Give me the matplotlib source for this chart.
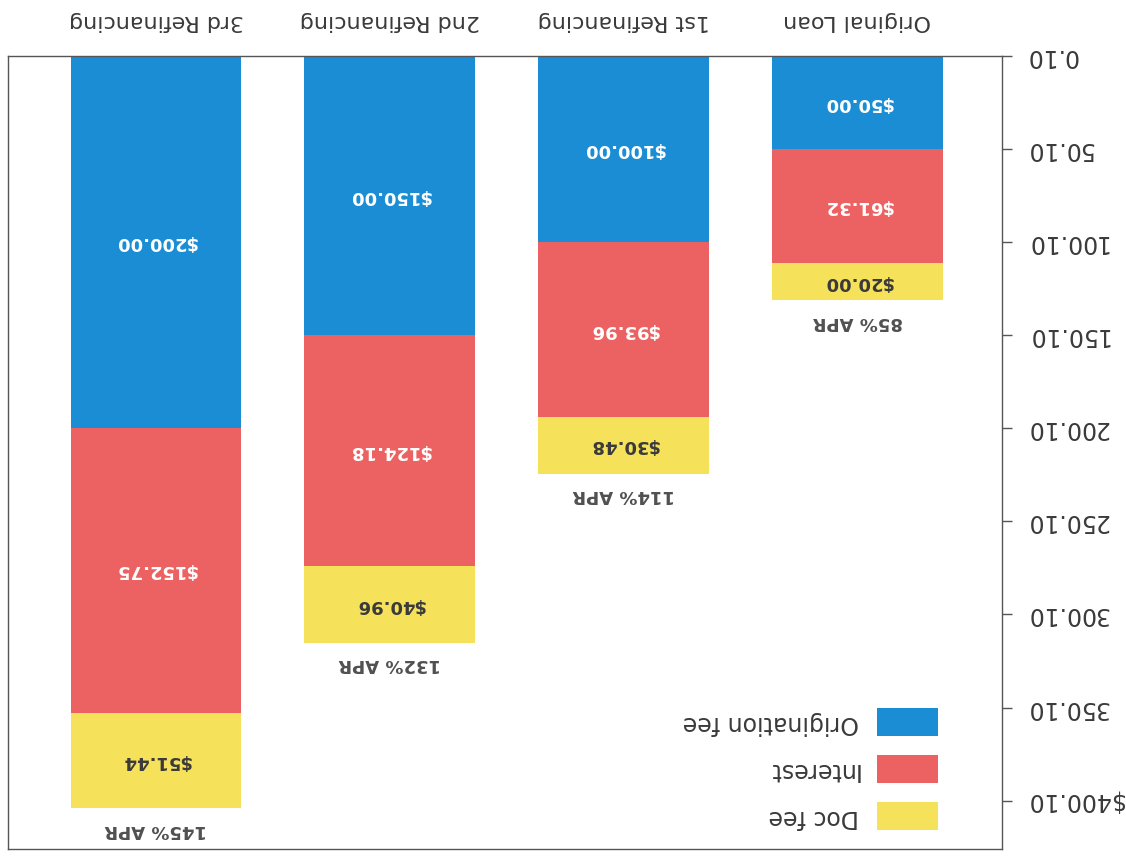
import numpy as np
import matplotlib.pyplot as plt

# Loan cost breakdown per refinancing step
categories = ['Original Loan', '1st Refinancing', '2nd Refinancing', '3rd Refinancing']
origination_fee = [50.00, 100.00, 150.00, 200.00]
interest = [61.32, 93.96, 124.18, 152.75]
doc_fee = [20.00, 30.48, 40.96, 51.44]
apr_labels = ['85% APR', '114% APR', '132% APR', '145% APR']

tick_values = [0, 50, 100, 150, 200, 250, 300, 350, 400]
tick_labels = ['0.10', '50.10', '100.10', '150.10', '200.10',
               '250.10', '300.10', '350.10', '$400.10']

colors = {'Origination fee': '#1a8dd5', 'Interest': '#ec6262', 'Doc fee': '#f5e25a'}
text_dark = '#3a3a3a'

# the sheet is shown upside down: both axes inverted, all text turned 180 degrees
fig = plt.figure(figsize=(11.26, 8.58), dpi=100)
ax = fig.add_axes([8 / 1126, 1 - 849 / 858, 994 / 1126, 793 / 858])

x = np.arange(len(categories))
width = 0.73
bottom_interest = np.array(origination_fee)
bottom_doc = bottom_interest + np.array(interest)

b1 = ax.bar(x, origination_fee, width, color=colors['Origination fee'],
            label='Origination fee', linewidth=0)
b2 = ax.bar(x, interest, width, bottom=bottom_interest, color=colors['Interest'],
            label='Interest', linewidth=0)
b3 = ax.bar(x, doc_fee, width, bottom=bottom_doc, color=colors['Doc fee'],
            label='Doc fee', linewidth=0)

ax.set_xlim(3.633, -0.618)
ax.set_ylim(426, 0)

for bars, vals, col in [(b1, origination_fee, 'white'),
                        (b2, interest, 'white'),
                        (b3, doc_fee, text_dark)]:
    ax.bar_label(bars, labels=[f'${v:.2f}' for v in vals], label_type='center',
                 rotation=180, color=col, fontsize=13, fontweight='bold')

ax.bar_label(b3, labels=apr_labels, padding=9, rotation=180,
             color='#505050', fontsize=13, fontweight='bold')

# axes furniture
ax.yaxis.tick_right()
ax.set_yticks(tick_values, tick_labels)
ax.tick_params(axis='y', length=7, width=1, pad=10, labelsize=17,
               labelrotation=180, colors='#555555', labelcolor=text_dark)
for t in ax.get_yticklabels():
    t.set_verticalalignment('center')
ax.xaxis.tick_top()
ax.set_xticks(x, categories)
ax.tick_params(axis='x', length=0, pad=18, labelsize=16,
               labelrotation=180, labelcolor=text_dark)
for s in ax.spines.values():
    s.set_color('#555555')
    s.set_linewidth(1)

leg = ax.legend(loc='lower right', bbox_to_anchor=(0.936, 0.024), frameon=False,
                markerfirst=False, fontsize=17, handlelength=2.6, handleheight=1.47,
                handletextpad=0.76, labelspacing=0.78, borderpad=0, borderaxespad=0)
for t in leg.get_texts():
    t.set_rotation(180)
    t.set_color(text_dark)

fig.savefig('out.png', dpi=100)
